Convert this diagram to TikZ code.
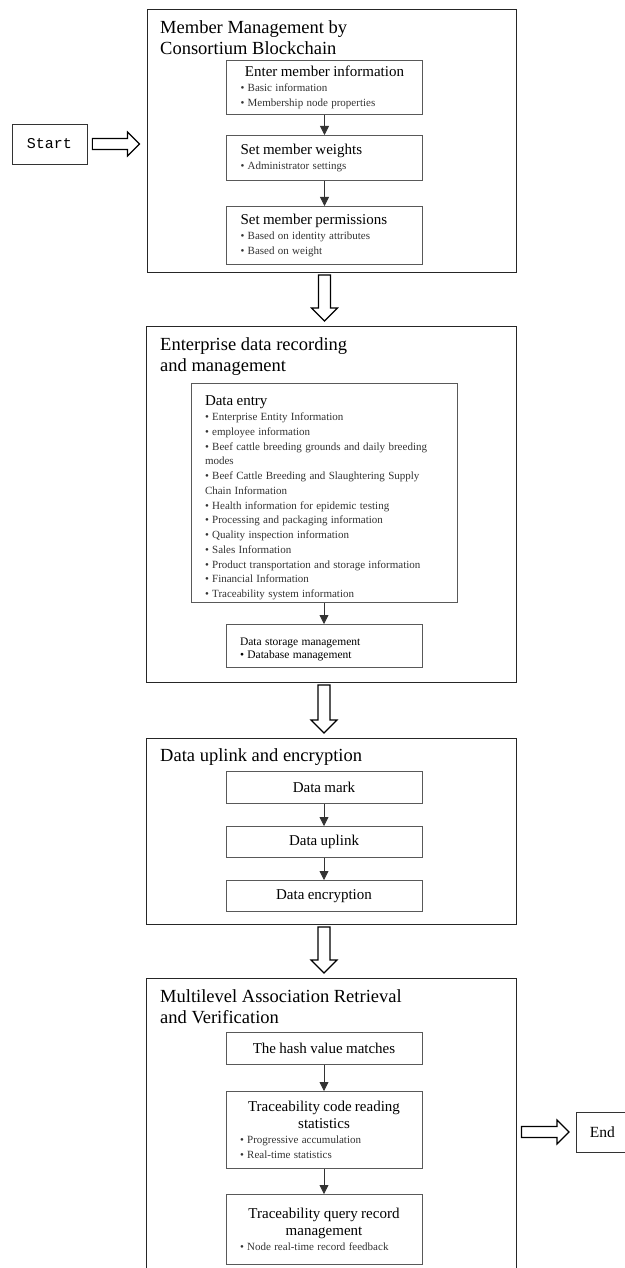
\documentclass[tikz,border=0pt]{standalone}
\usepackage{fontspec}
\setmainfont{Liberation Serif}
\newfontfamily\startfont{Liberation Mono}
\usetikzlibrary{arrows.meta,calc}

\newcommand{\headfont}{\fontsize{15}{17}\selectfont}
\newcommand{\bulfont}{\fontsize{11}{14.75}\selectfont}
\newcommand{\stephead}[1]{{\centering\headfont #1\par}}
\newcommand{\stepheadleft}[1]{{\raggedright\headfont #1\par}}
\newcommand{\bulitem}[1]{{\raggedright\bulfont\color{black!80}\textbullet\ #1\par}}

\newcommand{\hollowdown}[2]{%
  \draw[hollow] let \p1 = (#1), \p2 = (#2) in
    (\x1-6pt,\y1-2pt) -- (\x1+6pt,\y1-2pt) -- (\x1+6pt,\y2+18pt) -- (\x1+13pt,\y2+18pt)
    -- (\x1,\y2+5pt) -- (\x1-13pt,\y2+18pt) -- (\x1-6pt,\y2+18pt) -- cycle;}
\newcommand{\hollowright}[2]{%
  \draw[hollow] let \p1 = (#1), \p2 = (#2) in
    (\x1+5pt,\y1+5.5pt) -- (\x2-19pt,\y1+5.5pt) -- (\x2-19pt,\y1+12pt) -- (\x2-7pt,\y1)
    -- (\x2-19pt,\y1-12pt) -- (\x2-19pt,\y1-5.5pt) -- (\x1+5pt,\y1-5.5pt) -- cycle;}

\tikzset{
  secbox/.style = {draw = black!85, line width = 1pt, inner sep = 0pt, anchor = north west},
  sectitle/.style = {anchor = north west, inner sep = 0pt, align = left, font = \fontsize{18.5}{21}\selectfont},
  stepbox/.style = {draw = black!65, line width = 0.8pt, minimum width = 196, text width = 168,
    inner xsep = 14pt, inner ysep = 0pt, anchor = north},
  flow/.style = {draw = black!80, line width = 0.8pt, -{Triangle[length = 9pt, width = 9pt]}},
  hollow/.style = {draw = black, line width = 1.1pt, fill = white, line join = miter},
  endbox/.style = {draw = black!80, line width = 0.8pt, inner sep = 0pt},
}

\begin{document}
\begin{tikzpicture}[x = 1pt, y = -1pt]

  \useasboundingbox (0, 0) rectangle (624, 1268);

  \node[endbox, minimum width = 75, minimum height = 40] (start) at (49.5, 144) {\startfont\fontsize{15}{18}\selectfont Start};

  \node[secbox, minimum width = 369.5, minimum height = 262.5] (member) at (146.5, 9.5) {};
  \node[sectitle] (membertitle) at (160, 20) {Member Management by\\Consortium Blockchain};
  \node[stepbox, minimum height = 54] (enter) at (324.5, 60)
    {\stephead{Enter member information}\bulitem{Basic information}\bulitem{Membership node properties}};
  \node[stepbox, minimum height = 45] (weights) at (324.5, 135)
    {\stepheadleft{Set member weights}\bulitem{Administrator settings}};
  \node[stepbox, minimum height = 58] (perms) at (324.5, 206)
    {\stepheadleft{Set member permissions}\bulitem{Based on identity attributes}\bulitem{Based on weight}};
  \draw[flow] (enter) -- (weights);
  \draw[flow] (weights) -- (perms);

  \node[secbox, minimum width = 369.5, minimum height = 356] (record) at (146, 326) {};
  \node[sectitle] (recordtitle) at (160, 337) {Enterprise data recording\\and management};
  \node[stepbox, minimum width = 266, text width = 238, minimum height = 219] (entry) at (324, 383)
    {\stepheadleft{\rule{0pt}{20pt}Data entry}%
     \bulitem{Enterprise Entity Information}%
     \bulitem{employee information}%
     \bulitem{Beef cattle breeding grounds and daily breeding\newline modes}%
     \bulitem{Beef Cattle Breeding and Slaughtering Supply\newline Chain Information}%
     \bulitem{Health information for epidemic testing}%
     \bulitem{Processing and packaging information}%
     \bulitem{Quality inspection information}%
     \bulitem{Sales Information}%
     \bulitem{Product transportation and storage information}%
     \bulitem{Financial Information}%
     \bulitem{Traceability system information}};
  \node[stepbox, minimum height = 43] (storage) at (324, 624)
    {{\raggedright\fontsize{11.5}{12.5}\selectfont\rule{0pt}{15pt}Data storage management\par\textbullet\ Database management\par}};
  \draw[flow] (entry) -- (storage);

  \node[secbox, minimum width = 369.5, minimum height = 186] (chain) at (146, 738) {};
  \node[sectitle] (chaintitle) at (160, 748) {Data uplink and encryption};
  \node[stepbox, minimum height = 32] (mark) at (324, 771) {\stephead{Data mark}};
  \node[stepbox, minimum height = 31] (upload) at (324, 826) {\stephead{Data uplink}};
  \node[stepbox, minimum height = 31] (encrypt) at (324, 880) {\stephead{Data encryption}};
  \draw[flow] (mark) -- (upload);
  \draw[flow] (upload) -- (encrypt);

  \node[secbox, draw = none, minimum width = 369.5, minimum height = 294] (verify) at (146, 978) {};
  \draw[black!85, line width = 1pt] (verify.south west) -- (verify.north west) -- (verify.north east) -- (verify.south east);
  \node[sectitle] (verifytitle) at (160, 989) {Multilevel Association Retrieval\\and Verification};
  \node[stepbox, minimum height = 32] (hash) at (324, 1032) {\stephead{The hash value matches}};
  \node[stepbox, minimum height = 77] (readstat) at (324, 1091)
    {\stephead{Traceability code reading\\statistics}\bulitem{Progressive accumulation}\bulitem{Real-time statistics}};
  \node[stepbox, minimum height = 70] (query) at (324, 1194)
    {\stephead{Traceability query record\\management}\bulitem{Node real-time record feedback}};
  \draw[flow] (hash) -- (readstat);
  \draw[flow] (readstat) -- (query);

  \node[endbox, minimum width = 52, minimum height = 40, anchor = west] (finish) at (576, 1132) {\fontsize{15.5}{18}\selectfont End};

  \hollowright{start.east}{member.west |- start.east}
  \hollowdown{perms.south |- member.south}{record.north}
  \hollowdown{storage.south |- record.south}{chain.north}
  \hollowdown{encrypt.south |- chain.south}{verify.north}
  \hollowright{verify.east |- finish.west}{finish.west}

\end{tikzpicture}
\end{document}
